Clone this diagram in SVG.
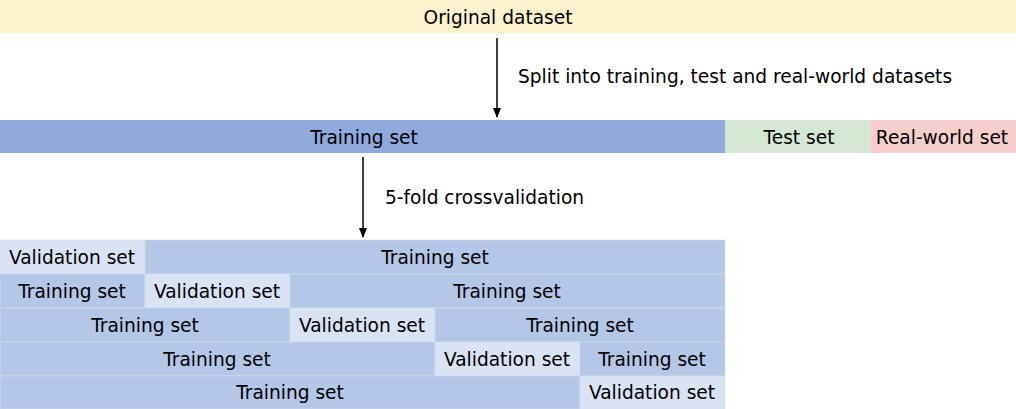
<svg xmlns="http://www.w3.org/2000/svg" width="1016" height="409" viewBox="0 0 1016 409">
<defs>
<marker id="arr" markerWidth="10" markerHeight="10" refX="9" refY="5" orient="auto" markerUnits="userSpaceOnUse">
<path d="M0,1 L10,5 L0,9 Z" fill="#000"/>
</marker>
<style>
text{font-family:"DejaVu Sans",sans-serif;font-size:18.6px;fill:#000;text-anchor:middle;dominant-baseline:central}
.lbl{text-anchor:start}
.orig{fill:#fff2cc}
.tr{fill:#8faadc}
.te{fill:#d5e8d4}
.rw{fill:#f8cecc}
.g{fill:#b4c7e7;stroke:#d3ddf0;stroke-width:0.6}
.v{fill:#dae3f3;stroke:#d3ddf0;stroke-width:0.6}
.c{stroke:#000;stroke-width:1.5;fill:none;marker-end:url(#arr)}
</style>
</defs>
<rect width="1016" height="409" fill="#fff"/>
<g id="original"><rect class="orig" x="0" y="0" width="1016" height="33"/><text x="498" y="17">Original dataset</text></g>
<g id="training"><rect class="tr" x="0" y="120" width="725" height="33"/><text x="364" y="137">Training set</text></g>
<g id="test"><rect class="te" x="725" y="120" width="146" height="33"/><text x="799" y="137">Test set</text></g>
<g id="realworld"><rect class="rw" x="871" y="120" width="145" height="33"/><text x="942" y="137">Real-world set</text></g>
<g id="fold1">
<rect class="v" x="0" y="240" width="145" height="34"/><text x="72" y="257">Validation set</text>
<rect class="g" x="145" y="240" width="580" height="34"/><text x="435" y="257">Training set</text>
</g>
<g id="fold2">
<rect class="g" x="0" y="274" width="145" height="34"/><text x="72" y="291">Training set</text>
<rect class="v" x="145" y="274" width="145" height="34"/><text x="217" y="291">Validation set</text>
<rect class="g" x="290" y="274" width="435" height="34"/><text x="507" y="291">Training set</text>
</g>
<g id="fold3">
<rect class="g" x="0" y="308" width="290" height="34"/><text x="145" y="325">Training set</text>
<rect class="v" x="290" y="308" width="145" height="34"/><text x="362" y="325">Validation set</text>
<rect class="g" x="435" y="308" width="290" height="34"/><text x="580" y="325">Training set</text>
</g>
<g id="fold4">
<rect class="g" x="0" y="342" width="435" height="34"/><text x="217" y="359">Training set</text>
<rect class="v" x="435" y="342" width="145" height="34"/><text x="507" y="359">Validation set</text>
<rect class="g" x="580" y="342" width="145" height="34"/><text x="652" y="359">Training set</text>
</g>
<g id="fold5">
<rect class="g" x="0" y="376" width="580" height="33"/><text x="290" y="392">Training set</text>
<rect class="v" x="580" y="376" width="145" height="33"/><text x="652" y="392">Validation set</text>
</g>
<g id="connectors">
<line class="c" x1="497" y1="38" x2="497" y2="117"/>
<text class="lbl" x="518" y="76">Split into training, test and real-world datasets</text>
<line class="c" x1="363" y1="157" x2="363" y2="237"/>
<text class="lbl" x="385" y="197">5-fold crossvalidation</text>
</g>
</svg>
